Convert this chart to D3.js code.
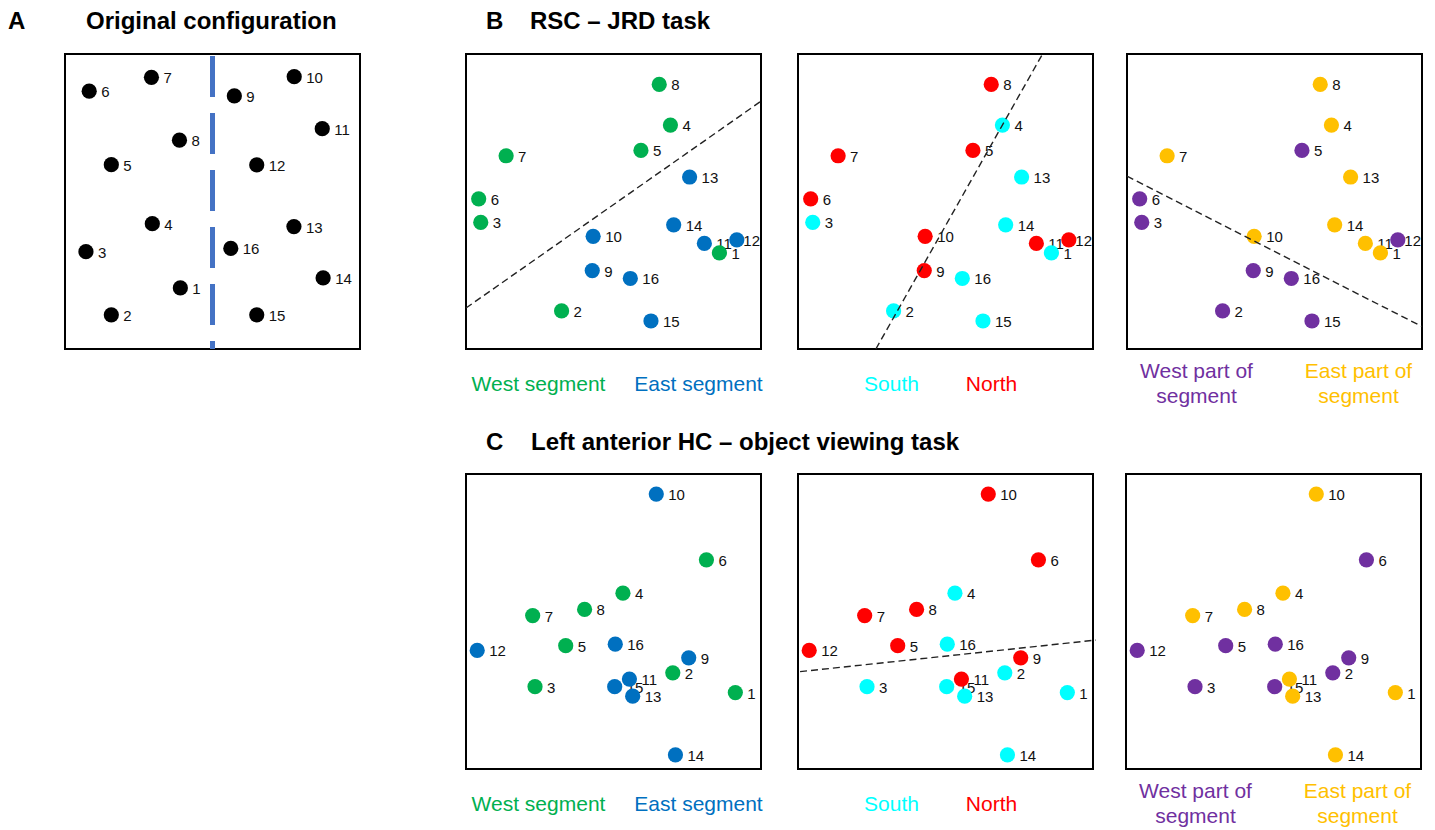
<!DOCTYPE html>
<html>
<head>
<meta charset="utf-8">
<script src="https://cdn.jsdelivr.net/npm/d3@7"></script>
<style>
  body { margin: 0; background: #fff; }
  text { font-family: Arial, "Liberation Sans", sans-serif; }
</style>
</head>
<body>
<svg id="chart" width="1435" height="830"></svg>
<script>
  // point numbers 1..16
  var pointIds = [1, 2, 3, 4, 5, 6, 7, 8, 9, 10, 11, 12, 13, 14, 15, 16];

  // A: original configuration (arbitrary units, 0-10)
  var origX = [3.91, 1.57, 0.71, 2.96, 1.57, 0.82, 2.93, 3.88, 5.74, 7.77, 8.72, 6.50, 7.76, 8.75, 6.50, 5.62];
  var origY = [2.07, 1.16, 3.30, 4.25, 6.25, 8.74, 9.21, 7.08, 8.58, 9.23, 7.47, 6.24, 4.15, 2.41, 1.16, 3.41];

  // B: RSC - JRD task
  var rscX = [8.59, 3.24, 0.50, 6.93, 5.93, 0.43, 1.36, 6.55, 4.28, 4.31, 8.08, 9.18, 7.58, 7.04, 6.27, 5.57];
  var rscY = [3.26, 1.29, 4.29, 7.59, 6.73, 5.09, 6.55, 8.97, 2.66, 3.82, 3.58, 3.70, 5.83, 4.21, 0.95, 2.39];

  // C: left anterior HC - object viewing task
  var hcX = [9.13, 7.01, 2.34, 5.32, 3.38, 8.15, 2.26, 4.02, 7.55, 6.45, 5.54, 0.38, 5.65, 7.10, 5.04, 5.06];
  var hcY = [2.59, 3.26, 2.79, 5.96, 4.18, 7.09, 5.20, 5.41, 3.77, 9.32, 3.05, 4.02, 2.47, 0.48, 2.79, 4.23];

  // groupings of the 16 points
  var segmentGroup = ["West segment", "West segment", "West segment", "West segment", "West segment", "West segment", "West segment", "West segment",
                      "East segment", "East segment", "East segment", "East segment", "East segment", "East segment", "East segment", "East segment"];
  var nsGroup = ["South", "South", "South", "South", "North", "North", "North", "North",
                 "North", "North", "North", "North", "South", "South", "South", "South"];
  var partGroup = ["East part of segment", "West part of segment", "West part of segment", "East part of segment",
                   "West part of segment", "West part of segment", "East part of segment", "East part of segment",
                   "West part of segment", "East part of segment", "East part of segment", "West part of segment",
                   "East part of segment", "East part of segment", "West part of segment", "West part of segment"];

  var segmentNames = ["West segment", "East segment"];
  var segmentColors = ["#00B050", "#0070C0"];
  var nsNames = ["South", "North"];
  var nsColors = ["#00FFFF", "#FF0000"];
  var partNames = ["West part of segment", "East part of segment"];
  var partColors = ["#7030A0", "#FFC000"];

  // dividing lines (data units, two end points)
  var lineB1 = [[0, 1.39], [10, 8.40]];
  var lineB2 = [[2.64, 0], [8.29, 10]];
  var lineB3 = [[0, 5.86], [10, 0.76]];
  var lineC2 = [[0.07, 3.30], [10.1, 4.37]];

  var boxSize = 295;
  var dotR = 7.6;
  var svg = d3.select("#chart");

  function makeRows(xs, ys, groups) {
    return pointIds.map(function (id, i) {
      return {id: id, x: xs[i], y: ys[i], g: groups ? groups[i] : null};
    });
  }

  function drawPanel(left, top, rows, colorScale, divider, legend) {
    var x = d3.scaleLinear().domain([0, 10]).range([left, left + boxSize]);
    var y = d3.scaleLinear().domain([0, 10]).range([top + boxSize, top]);
    var g = svg.append("g");

    g.append("rect")
      .attr("x", left)
      .attr("y", top)
      .attr("width", boxSize)
      .attr("height", boxSize)
      .style("fill", "none")
      .style("stroke", "#000")
      .style("stroke-width", 2);

    // labels first, markers are drawn over them
    g.selectAll(".lbl")
      .data(rows)
      .enter()
      .append("text")
      .attr("class", "lbl")
      .attr("x", function (d) { return x(d.x) + 12; })
      .attr("y", function (d) { return y(d.y) + 6; })
      .style("font-size", "15px")
      .style("fill", "#111")
      .text(function (d) { return d.id; })
      .each(function () {
        var w = this.getComputedTextLength();
        var x0 = +d3.select(this).attr("x");
        if (x0 + w > left + boxSize - 1) d3.select(this).attr("x", left + boxSize - 1 - w);
      });

    g.selectAll(".dot")
      .data(rows)
      .enter()
      .append("circle")
      .attr("class", "dot")
      .attr("cx", function (d) { return x(d.x); })
      .attr("cy", function (d) { return y(d.y); })
      .attr("r", dotR)
      .style("fill", function (d) { return colorScale ? colorScale(d.g) : "#000"; });

    if (divider) {
      g.append("line")
        .attr("x1", x(divider[0][0]))
        .attr("y1", y(divider[0][1]))
        .attr("x2", x(divider[1][0]))
        .attr("y2", y(divider[1][1]))
        .style("stroke", "#222")
        .style("stroke-width", 1.4)
        .style("stroke-dasharray", "7,4");
    }

    if (legend) {
      var cx = left + boxSize / 2;
      legend.names.forEach(function (name, i) {
        var t = g.append("text")
          .attr("x", cx + legend.offsets[i])
          .attr("text-anchor", "middle")
          .style("font-size", "21px")
          .style("fill", colorScale(name));
        if (legend.twoLine) {
          var parts = name.split(" ");
          t.attr("y", top + boxSize + 29);
          t.append("tspan").attr("x", cx + legend.offsets[i]).text(parts.slice(0, 3).join(" "));
          t.append("tspan").attr("x", cx + legend.offsets[i]).attr("dy", 24.5).text(parts.slice(3).join(" "));
        } else {
          t.attr("y", top + boxSize + 42).text(name);
        }
      });
    }
    return {x: x, y: y, g: g};
  }

  var segColor = d3.scaleOrdinal().domain(segmentNames).range(segmentColors);
  var nsColor = d3.scaleOrdinal().domain(nsNames).range(nsColors);
  var partColor = d3.scaleOrdinal().domain(partNames).range(partColors);

  var segLegend = {names: segmentNames, offsets: [-75, 85], twoLine: false};
  var nsLegend = {names: nsNames, offsets: [-54, 46], twoLine: false};
  var partLegend = {names: partNames, offsets: [-78, 84], twoLine: true};

  // A
  var pA = drawPanel(65, 54, makeRows(origX, origY), null, null, null);
  pA.g.insert("line", ".lbl")
    .attr("x1", pA.x(5))
    .attr("x2", pA.x(5))
    .attr("y1", pA.y(10) + 2)
    .attr("y2", pA.y(0))
    .style("stroke", "#4472C4")
    .style("stroke-width", 5)
    .style("stroke-dasharray", "41,16");

  // B
  drawPanel(466, 54, makeRows(rscX, rscY, segmentGroup), segColor, lineB1, segLegend);
  drawPanel(798, 54, makeRows(rscX, rscY, nsGroup), nsColor, lineB2, nsLegend);
  drawPanel(1127, 54, makeRows(rscX, rscY, partGroup), partColor, lineB3, partLegend);

  // C
  drawPanel(466, 474, makeRows(hcX, hcY, segmentGroup), segColor, null, segLegend);
  drawPanel(798, 474, makeRows(hcX, hcY, nsGroup), nsColor, lineC2, nsLegend);
  drawPanel(1126, 474, makeRows(hcX, hcY, partGroup), partColor, null, partLegend);

  // titles
  var titles = [
    {letter: "A", text: "Original configuration", lx: 8, tx: 86, y: 29},
    {letter: "B", text: "RSC \u2013 JRD task", lx: 486, tx: 530, y: 28.5},
    {letter: "C", text: "Left anterior HC \u2013 object viewing task", lx: 486, tx: 531, y: 450}
  ];
  titles.forEach(function (t) {
    svg.append("text")
      .attr("x", t.lx)
      .attr("y", t.y)
      .style("font-size", "24px")
      .style("font-weight", "bold")
      .text(t.letter);
    svg.append("text")
      .attr("x", t.tx)
      .attr("y", t.y)
      .style("font-size", "24px")
      .style("font-weight", "bold")
      .text(t.text);
  });
</script>
</body>
</html>
